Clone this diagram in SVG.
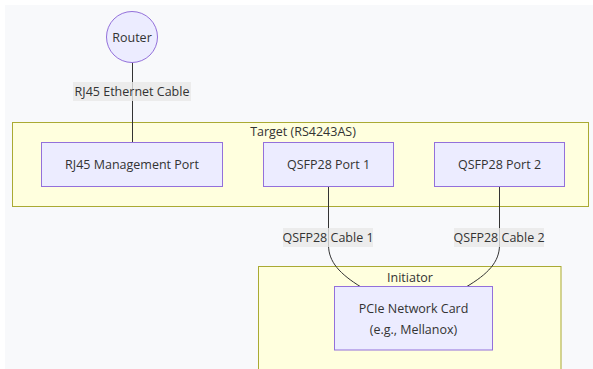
<svg xmlns="http://www.w3.org/2000/svg" width="593" height="369" viewBox="0 0 593 369">
<style>
text{font-family:"Open Sans","DejaVu Sans",sans-serif;font-size:12.5px;fill:#333;text-anchor:middle;dominant-baseline:central}
.node{fill:#ECECFF;stroke:#9370DB;stroke-width:1}
.cluster{fill:#ffffde;stroke:#aaaa33;stroke-width:1}
.edge{fill:none;stroke:#333;stroke-width:1}
.lbl{fill:#e8e8e8;fill-opacity:0.8}
</style>
<rect x="5" y="5" width="588" height="364" fill="#f8f9fb"/>
<g id="cluster-target">
<rect class="cluster" x="12.5" y="122.5" width="576" height="84"/>
<text x="303" y="131">Target (RS4243AS)</text>
</g>
<g id="cluster-initiator">
<rect class="cluster" x="258.5" y="266.5" width="302.5" height="110"/>
<text x="410" y="277">Initiator</text>
</g>
<g id="connectors">
<path class="edge" d="M132.5,63 L132.5,142"/>
<path class="edge" d="M328.5,187 L328.5,245 C328.5,262 340,274 361,287"/>
<path class="edge" d="M499.5,187 L499.5,245 C499.5,262 488,274 466,287"/>
<rect class="lbl" x="73" y="82" width="118" height="19"/>
<text x="132" y="91.5">RJ45 Ethernet Cable</text>
<rect class="lbl" x="283" y="228" width="90" height="19"/>
<text x="328" y="237.5">QSFP28 Cable 1</text>
<rect class="lbl" x="454" y="228" width="90" height="19"/>
<text x="499" y="237.5">QSFP28 Cable 2</text>
</g>
<g id="router">
<circle class="node" cx="132" cy="37" r="25.5"/>
<text x="132" y="37">Router</text>
</g>
<g id="rj45">
<rect class="node" x="41.5" y="142.5" width="181" height="44"/>
<text x="132" y="164.5">RJ45 Management Port</text>
</g>
<g id="port1">
<rect class="node" x="263.5" y="142.5" width="130" height="44"/>
<text x="328.5" y="164.5">QSFP28 Port 1</text>
</g>
<g id="port2">
<rect class="node" x="434.5" y="142.5" width="130" height="44"/>
<text x="499.5" y="164.5">QSFP28 Port 2</text>
</g>
<g id="pcie">
<rect class="node" x="334.5" y="286.5" width="158" height="63.5"/>
<text x="413.5" y="308.5">PCIe Network Card</text>
<text x="413.5" y="329">(e.g., Mellanox)</text>
</g>
</svg>
